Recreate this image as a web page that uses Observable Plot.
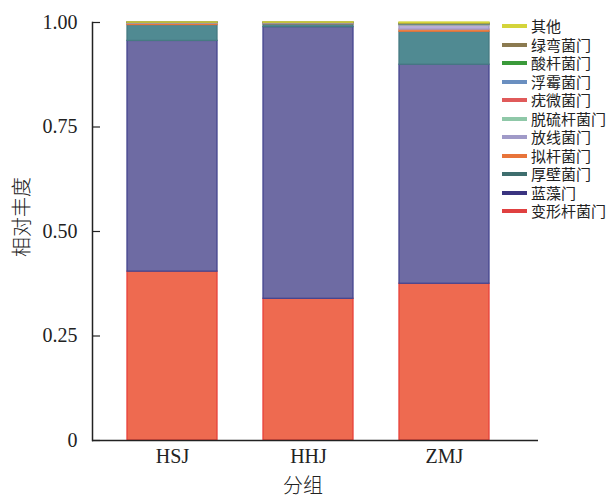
<!DOCTYPE html>
<html>
<head>
<meta charset="utf-8">
<script src="https://cdn.jsdelivr.net/npm/d3@7"></script>
<script src="https://cdn.jsdelivr.net/npm/@observablehq/plot@0.6"></script>
<style>
  body { margin: 0; background: #fff; }
  #wrap { position: relative; width: 611px; height: 499px; overflow: hidden; }
  #chart { position: absolute; left: 0; top: 0; }
  .ylab { position: absolute; left: 21px; top: 217px; transform: translate(-50%, -50%) rotate(-90deg); line-height: 1;
          font-family: "Noto Sans CJK SC", sans-serif; font-size: 20px; font-weight: 300; color: #222; white-space: nowrap; }
  .xlab { position: absolute; left: 303px; top: 485px; transform: translate(-50%, -50%); line-height: 1;
          font-family: "Noto Sans CJK SC", sans-serif; font-size: 20px; font-weight: 300; color: #222; white-space: nowrap; }
  #legend { position: absolute; left: 502px; top: 17px; font-family: "Noto Sans CJK SC", sans-serif; font-size: 15px; color: #222; }
  .item { display: flex; align-items: center; height: 18.5px; white-space: nowrap; }
  .item span { display: inline-block; height: 18px; line-height: 18px; overflow: visible; }
  .sw { width: 25px; height: 4px; margin-right: 4px; }
</style>
</head>
<body>
<div id="wrap">
  <div id="chart"></div>
  <div class="ylab">相对丰度</div>
  <div class="xlab">分组</div>
  <div id="legend"></div>
</div>
<script>
const groups = ["HSJ", "HHJ", "ZMJ"];
const phyla = ["变形杆菌门", "蓝藻门", "厚壁菌门", "拟杆菌门", "放线菌门", "脱硫杆菌门", "疣微菌门", "浮霉菌门", "酸杆菌门", "绿弯菌门", "其他"];
const HSJ = [0.404, 0.552, 0.038, 0.003, 0.001, 0.0005, 0.0005, 0.0003, 0.0003, 0.0003, 0.0001];
const HHJ = [0.339, 0.650, 0.007, 0.001, 0.001, 0.0005, 0.0003, 0.0003, 0.0003, 0.0003, 0.0005];
const ZMJ = [0.375, 0.524, 0.079, 0.005, 0.010, 0.001, 0.001, 0.001, 0.001, 0.001, 0.002];
const fillColors   = ["#EE6A50", "#6E6BA3", "#508A92", "#F08A50", "#B8ADD8", "#9FD0B0", "#E86060", "#7A9ACB", "#3E9E3E", "#8B7A50", "#D8D040"];
const strokeColors = ["#E8413A", "#45458F", "#467A82", "#E8743A", "#A09AC8", "#8FC8A8", "#E05A5A", "#6A8FC0", "#3A9A3A", "#8B7A50", "#D4D43A"];
const legendColors = ["#E04040", "#3A3480", "#3E6E6E", "#E8743A", "#A09AC8", "#8FC8A8", "#E05A5A", "#6A8FC0", "#3A9A3A", "#8B7A50", "#D4D43A"];
const yTicks = [0, 0.25, 0.5, 0.75, 1];

const series = {HSJ, HHJ, ZMJ};
const data = [];
phyla.forEach((p, i) => {
  groups.forEach(g => {
    data.push({group: g, phylum: p, value: series[g][i], fill: fillColors[i], stroke: strokeColors[i]});
  });
});

const chart = Plot.plot({
  width: 611,
  height: 499,
  marginLeft: 92,
  marginRight: 73,
  marginTop: 22,
  marginBottom: 59,
  style: {fontFamily: "'Liberation Serif', serif", fontSize: "20px", color: "#222", background: "#fff"},
  x: {domain: groups, range: [104, 512], paddingInner: 0.338, paddingOuter: 0.169, label: null},
  y: {domain: [0, 1], label: null},
  color: {type: "identity"},
  marks: [
    Plot.barY(data, Plot.stackY({x: "group", y: "value", z: "phylum", fill: "fill", stroke: "stroke", strokeWidth: 1.3, inset: 0, order: null})),
    Plot.axisX({tickSize: 0, tickPadding: 8, fontSize: 20, fontFamily: "'Liberation Serif', serif", fill: "#222", label: null}),
    Plot.axisY({ticks: yTicks, tickSize: 0, tickPadding: 15, fontSize: 20, fontFamily: "'Liberation Serif', serif", fill: "#222",
                tickFormat: d => d === 0 ? "0" : d.toFixed(2), label: null}),
    Plot.axisY({ticks: yTicks, tickSize: -8, text: null, stroke: "#222", strokeWidth: 1.2, label: null}),
    Plot.frame({anchor: "left", stroke: "#222", strokeWidth: 1.5}),
    Plot.ruleY([0], {stroke: "#222", strokeWidth: 1.5})
  ]
});
document.getElementById("chart").appendChild(chart);

const legend = document.getElementById("legend");
phyla.map((p, i) => ({p, c: legendColors[i]})).reverse().forEach(({p, c}) => {
  const row = document.createElement("div");
  row.className = "item";
  const sw = document.createElement("div");
  sw.className = "sw";
  sw.style.background = c;
  const t = document.createElement("span");
  t.textContent = p;
  row.appendChild(sw);
  row.appendChild(t);
  legend.appendChild(row);
});
</script>
</body>
</html>
